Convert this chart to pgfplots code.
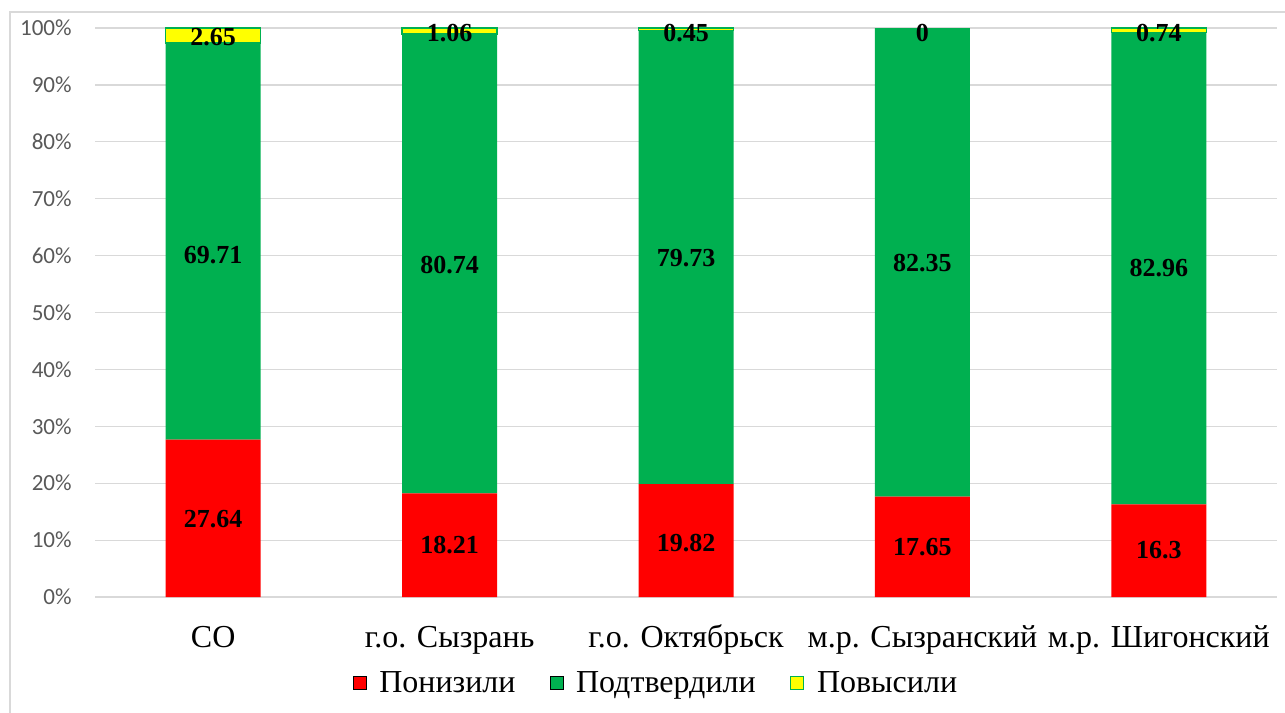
\documentclass[border=0pt]{standalone}
\usepackage{pgfplots}
\pgfplotsset{compat=1.18}
\usepackage{fontspec}
\setmainfont{Liberation Serif}
\newfontfamily\tickfont{Carlito}

\definecolor{cred}{HTML}{FF0000}
\definecolor{cgreen}{HTML}{00B050}
\definecolor{cyellow}{HTML}{FFFF00}
\definecolor{cgrid}{HTML}{D9D9D9}
\definecolor{ctick}{HTML}{595959}

\pgfplotsset{
  base/.style={
    width=886.5pt, height=426.75pt, scale only axis,
    xmin=-0.5, xmax=4.5, ymin=0, ymax=100,
    at={(71.25pt,-447.75pt)}, anchor=south west,
  }
}

\begin{document}
\begin{tikzpicture}
\useasboundingbox (0,0) rectangle (963.75pt,-534.75pt);
% outer chart frame (only left and top edges are visible)
\draw[cgrid, line width=1.2pt] (7.5pt,-540pt) -- (7.5pt,-9pt) -- (970pt,-9pt);

\begin{axis}[base,
  ybar stacked, bar width=71.25pt,
  axis line style={draw=none},
  ymajorgrids, grid style={cgrid, line width=0.9pt},
  ytick={0,10,...,100},
  yticklabel={\pgfmathprintnumber{\tick}\%},
  yticklabel style={font=\tickfont\fontsize{17.3}{17.3}\selectfont, color=ctick, xshift=-14pt},
  /pgf/number format/assume math mode=true,
  xtick={0,1,2,3,4},
  xticklabels={СО, г.о. Сызрань, г.о. Октябрьск, м.р. Сызранский, м.р. Шигонский},
  xticklabel style={font=\fontsize{24}{24}\selectfont, anchor=base, yshift=-37.5pt},
  major tick length=0pt,
  clip=false,
  legend columns=3,
  legend style={at={(0.475,-0.151)}, anchor=center, draw=none, fill=none,
    font=\fontsize{24}{24}\selectfont,
    /tikz/every odd column/.append style={column sep=7.5pt},
    /tikz/every even column/.append style={column sep=23.75pt}},
  legend image code/.code={\draw[#1] (0pt,-4.9pt) rectangle (9.75pt,4.9pt);},
]
\addplot[fill=cred, draw=none] coordinates {(0,27.64) (1,18.21) (2,19.82) (3,17.65) (4,16.3)};
\addplot[fill=cgreen, draw=none] coordinates {(0,69.71) (1,80.74) (2,79.73) (3,82.35) (4,82.96)};
\addplot[fill=cyellow, draw=cgreen, line width=1pt] coordinates {(0,2.65) (1,1.06) (2,0.45) (3,0) (4,0.74)};
\legend{Понизили, Подтвердили, Повысили}
\draw[cgrid, line width=1.2pt] (axis cs:-0.5,0) -- (axis cs:4.5,0);
\end{axis}

% data labels
\begin{axis}[base, hide axis, clip=false]
\addplot[only marks, mark=none, point meta=explicit symbolic,
  nodes near coords,
  every node near coord/.append style={anchor=center, font=\bfseries\fontsize{19.5}{19.5}\selectfont, text=black}]
table[meta=label] {
x y label
0 13.75 27.64
1 9.05 18.21
2 9.5 19.82
3 8.7 17.65
4 8.3 16.3
0 60.1 69.71
1 58.4 80.74
2 59.6 79.73
3 58.7 82.35
4 57.8 82.96
0 98.4 2.65
1 99.2 1.06
2 99.2 0.45
3 99.2 0
4 99.2 0.74
};
\end{axis}
\end{tikzpicture}
\end{document}
